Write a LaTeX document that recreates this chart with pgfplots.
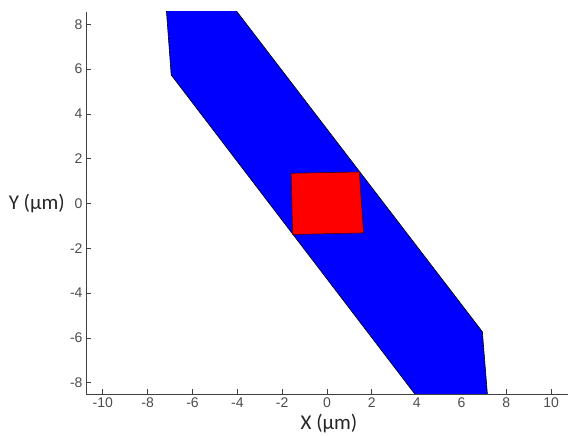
\documentclass[border=0pt]{standalone}
\usepackage{fontspec}
\setmainfont{Liberation Sans}
\newfontfamily\labelfont{Carlito}
\usepackage{pgfplots}
\pgfplotsset{compat=1.18}
\begin{document}
\begin{tikzpicture}[x=1pt,y=1pt]
\useasboundingbox (0,0) rectangle (568,436);
\begin{axis}[
  at={(86pt,42pt)}, anchor=south west,
  scale only axis, width=482pt, height=382pt,
  xmin=-10.75, xmax=10.75, ymin=-8.5, ymax=8.55,
  axis x line*=bottom, axis y line*=left,
  axis line style={black!75, line width=0.8pt},
  tick align=inside, major tick length=5pt,
  tick style={black!75, line width=0.8pt},
  xtick={-10,-8,...,10}, ytick={-8,-6,...,8},
  ticklabel style={font=\fontsize{14}{14}\selectfont, text=black!70},
  /pgf/number format/assume math mode=true,
  clip=true,
]
\addplot[fill=blue, draw=black, line width=0.6pt]
  coordinates {(-7.17,8.7) (-4.12,8.7) (6.93,-5.72) (7.17,-8.7) (4.07,-8.7) (-6.95,5.74)} -- cycle;
\addplot[fill=red, draw=black!70!red, line width=0.6pt]
  coordinates {(-1.60,1.35) (1.44,1.41) (1.63,-1.31) (-1.53,-1.38)} -- cycle;
\end{axis}
\node[anchor=base east, inner sep=0pt, font=\labelfont\fontsize{21}{21}\selectfont, text=black!85] at (65,226) {Y (μm)};
\node[anchor=base, inner sep=0pt, font=\labelfont\fontsize{21}{21}\selectfont, text=black!85] at (329,6) {X (μm)};
\end{tikzpicture}
\end{document}
